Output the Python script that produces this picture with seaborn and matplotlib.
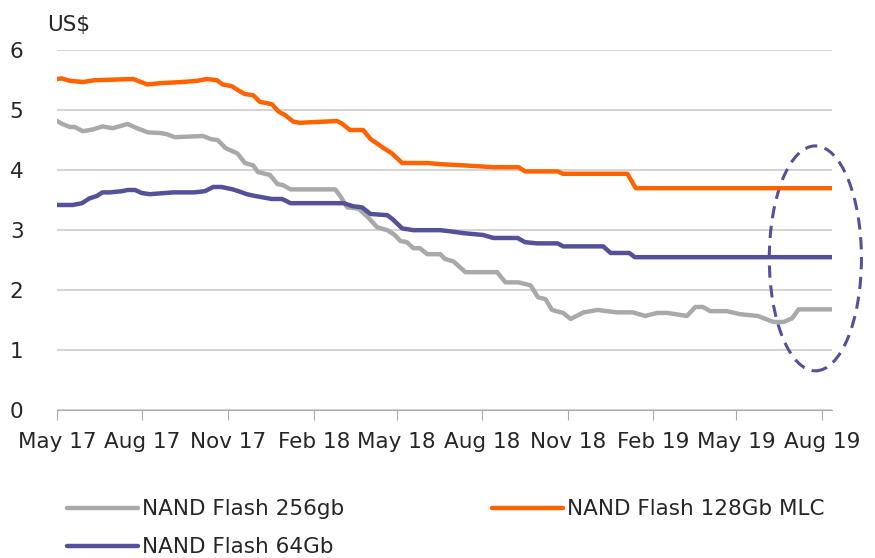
import seaborn as sns
import matplotlib.pyplot as plt
import matplotlib.dates as mdates
from matplotlib.patches import Ellipse
import pandas as pd

# NAND Flash 256gb
gray_dates = ["2017-05-01", "2017-05-07", "2017-05-15", "2017-05-20", "2017-05-29", "2017-06-09",
              "2017-06-19", "2017-06-30", "2017-07-16", "2017-07-26", "2017-08-07", "2017-08-20",
              "2017-08-27", "2017-09-05", "2017-10-05", "2017-10-13", "2017-10-21", "2017-10-29",
              "2017-11-11", "2017-11-19", "2017-11-28", "2017-12-03", "2017-12-16", "2017-12-24",
              "2017-12-30", "2018-01-07", "2018-02-24", "2018-03-01", "2018-03-09", "2018-03-21",
              "2018-03-31", "2018-04-10", "2018-04-21", "2018-04-29", "2018-05-05", "2018-05-12",
              "2018-05-19", "2018-05-26", "2018-06-03", "2018-06-17", "2018-06-22", "2018-07-01",
              "2018-07-14", "2018-08-17", "2018-08-26", "2018-09-09", "2018-09-22", "2018-09-30",
              "2018-10-08", "2018-10-15", "2018-10-27", "2018-11-04", "2018-11-18", "2018-12-03",
              "2018-12-13", "2018-12-24", "2019-01-10", "2019-01-23", "2019-02-05", "2019-02-16",
              "2019-03-09", "2019-03-18", "2019-03-26", "2019-04-03", "2019-04-21", "2019-05-05",
              "2019-05-24", "2019-06-10", "2019-06-21", "2019-06-30", "2019-07-07", "2019-08-12"]
gray_vals = [4.82, 4.77, 4.72, 4.72, 4.65, 4.68,
             4.73, 4.70, 4.77, 4.70, 4.63, 4.62,
             4.60, 4.55, 4.57, 4.52, 4.50, 4.37,
             4.28, 4.12, 4.08, 3.97, 3.92, 3.77,
             3.75, 3.68, 3.68, 3.58, 3.38, 3.36,
             3.22, 3.05, 3.00, 2.92, 2.82, 2.80,
             2.70, 2.70, 2.60, 2.60, 2.52, 2.48,
             2.30, 2.30, 2.13, 2.13, 2.08, 1.88,
             1.85, 1.67, 1.62, 1.52, 1.63, 1.67,
             1.65, 1.63, 1.63, 1.57, 1.62, 1.62,
             1.57, 1.72, 1.72, 1.65, 1.65, 1.60,
             1.57, 1.47, 1.47, 1.53, 1.68, 1.68]

# NAND Flash 128Gb MLC
orange_dates = ["2017-05-01", "2017-05-06", "2017-05-15", "2017-05-29", "2017-06-11", "2017-07-22",
                "2017-08-06", "2017-08-20", "2017-09-13", "2017-09-29", "2017-10-09", "2017-10-20",
                "2017-10-26", "2017-11-05", "2017-11-12", "2017-11-19", "2017-11-28", "2017-12-05",
                "2017-12-18", "2017-12-25", "2018-01-01", "2018-01-10", "2018-01-17", "2018-02-26",
                "2018-03-03", "2018-03-12", "2018-03-26", "2018-04-03", "2018-04-17", "2018-04-26",
                "2018-05-07", "2018-06-03", "2018-06-17", "2018-07-12", "2018-08-13", "2018-09-09",
                "2018-09-16", "2018-10-21", "2018-10-27", "2019-01-04", "2019-01-13", "2019-08-12"]
orange_vals = [5.52, 5.53, 5.49, 5.47, 5.50, 5.52,
               5.43, 5.45, 5.47, 5.49, 5.52, 5.50,
               5.43, 5.40, 5.33, 5.27, 5.25, 5.14,
               5.10, 4.98, 4.92, 4.81, 4.79, 4.82,
               4.78, 4.67, 4.67, 4.52, 4.37, 4.28,
               4.12, 4.12, 4.10, 4.08, 4.05, 4.05,
               3.98, 3.98, 3.94, 3.94, 3.70, 3.70]

# NAND Flash 64Gb
blue_dates = ["2017-05-01", "2017-05-18", "2017-05-28", "2017-06-05", "2017-06-13", "2017-06-19",
              "2017-06-27", "2017-07-10", "2017-07-16", "2017-07-24", "2017-07-31", "2017-08-09",
              "2017-09-03", "2017-09-26", "2017-10-07", "2017-10-16", "2017-10-25", "2017-11-06",
              "2017-11-14", "2017-11-21", "2017-11-30", "2017-12-18", "2017-12-29", "2018-01-07",
              "2018-03-05", "2018-03-15", "2018-03-25", "2018-04-03", "2018-04-21", "2018-04-27",
              "2018-05-07", "2018-05-19", "2018-06-17", "2018-06-28", "2018-07-12", "2018-08-02",
              "2018-08-13", "2018-09-08", "2018-09-16", "2018-09-29", "2018-10-21", "2018-10-27",
              "2018-12-09", "2018-12-17", "2019-01-06", "2019-01-12", "2019-08-12"]
blue_vals = [3.42, 3.42, 3.45, 3.53, 3.57, 3.63,
             3.63, 3.65, 3.67, 3.67, 3.62, 3.60,
             3.63, 3.63, 3.65, 3.72, 3.72, 3.68,
             3.64, 3.60, 3.57, 3.52, 3.52, 3.45,
             3.45, 3.40, 3.38, 3.27, 3.25, 3.18,
             3.03, 3.00, 3.00, 2.98, 2.95, 2.92,
             2.87, 2.87, 2.80, 2.78, 2.78, 2.73,
             2.73, 2.62, 2.62, 2.55, 2.55]

series_names = ["NAND Flash 256gb", "NAND Flash 128Gb MLC", "NAND Flash 64Gb"]
colors = ["#a9a9a9", "#ff6200", "#525199"]
tick_dates = ["2017-05-01", "2017-08-01", "2017-11-01", "2018-02-01", "2018-05-01",
              "2018-08-01", "2018-11-01", "2019-02-01", "2019-05-01", "2019-08-01"]
tick_labels = ["May 17", "Aug 17", "Nov 17", "Feb 18", "May 18",
               "Aug 18", "Nov 18", "Feb 19", "May 19", "Aug 19"]

frames = []
for name, d, v in zip(series_names, [gray_dates, orange_dates, blue_dates],
                      [gray_vals, orange_vals, blue_vals]):
    frames.append(pd.DataFrame({"date": pd.to_datetime(d), "price": v, "series": name}))
df = pd.concat(frames, ignore_index=True)

sns.set_style("white")
plt.rcParams['font.family'] = ['DejaVu Sans']

fig = plt.figure(figsize=(8.75, 5.58), dpi=100)
ax = fig.add_axes([0.065, 0.265, 0.886, 0.645])

sns.lineplot(data=df, x="date", y="price", hue="series", hue_order=series_names,
             palette=colors, estimator=None, sort=False, linewidth=3.2, ax=ax)

ax.set_ylim(0, 6)
ax.set_xlim(pd.Timestamp("2017-05-01"), pd.Timestamp("2019-08-12"))
ax.set_yticks([0, 1, 2, 3, 4, 5, 6])
ax.set_xticks(pd.to_datetime(tick_dates))
ax.set_xticklabels(tick_labels)
ax.yaxis.grid(True, color="#cccccc", linewidth=1.2)
ax.set_axisbelow(True)
for s in ["left", "right", "top"]:
    ax.spines[s].set_visible(False)
ax.spines["bottom"].set_color("#aaaaaa")
ax.tick_params(axis="x", length=7, color="#aaaaaa", labelsize=15.5, pad=9, bottom=True)
ax.tick_params(axis="y", length=0, labelsize=15.5, pad=24)
ax.set_xlabel("")
ax.set_ylabel("")
ax.text(-0.012, 1.07, "US$", transform=ax.transAxes, fontsize=15.5, va="center", ha="left")

# dashed ellipse highlighting the recent stabilisation
center = mdates.date2num(pd.Timestamp("2019-07-25"))
ax.add_patch(Ellipse((center, 2.53), width=99, height=3.75, fill=False,
                     edgecolor="#525199", linestyle=(0, (4, 2.5)), linewidth=2.2, clip_on=False))

handles, labels = ax.get_legend_handles_labels()
ax.get_legend().remove()
order = [0, 2, 1]
fig.legend([handles[i] for i in order], [labels[i] for i in order], ncol=2, frameon=False,
           loc="upper left", bbox_to_anchor=(0.076, 0.105), fontsize=15.5, handlelength=3.3,
           handletextpad=0.2, columnspacing=6.87, labelspacing=0.83, borderpad=0, borderaxespad=0)

fig.savefig("out.png", dpi=100)
